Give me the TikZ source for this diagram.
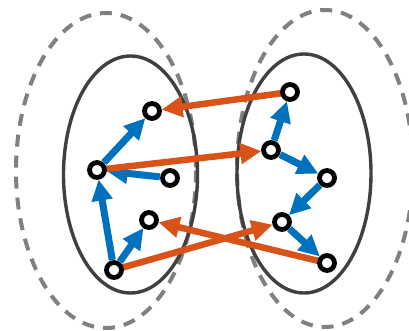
\documentclass[tikz,border=0pt]{standalone}
\usetikzlibrary{arrows.meta}
\definecolor{mblue}{HTML}{0072BD}
\definecolor{morange}{HTML}{D95319}
\definecolor{rimgray}{HTML}{404040}
\definecolor{dashgray}{HTML}{808080}
\begin{document}
\begin{tikzpicture}[x=1pt,y=-1pt,
  vertex/.style={circle,draw=black,fill=white,line width=4.8pt,minimum size=15pt,inner sep=0pt},
  anchorzone/.style={circle,minimum size=20pt,inner sep=0pt},
  cluster/.style={draw=rimgray,line width=3.4pt},
  group/.style={draw=dashgray,line width=4pt,dash pattern=on 12pt off 9pt},
  link/.style={line width=7pt,-{Triangle[length=21pt,width=20pt]},shorten >=-0.5pt},
  inner/.style={link,draw=mblue},
  cross/.style={link,draw=morange,line width=6.5pt}]
\useasboundingbox (0,0) rectangle (409,331);
% outer groups
\draw[group] (106,170.5) ellipse [x radius=90, y radius=157.5];
\draw[group] (325,168.5) ellipse [x radius=88, y radius=158.5];
% clusters
\draw[cluster] (130.5,174.5) ellipse [x radius=67, y radius=118.5];
\draw[cluster] (304,173.5) ellipse [x radius=67, y radius=119.5];
% vertex positions
\coordinate (pa) at (152,111);
\coordinate (pb) at (97,170);
\coordinate (pc) at (170,178);
\coordinate (pd) at (149,220);
\coordinate (pe) at (114,270);
\coordinate (pf) at (290,92);
\coordinate (pg) at (271,150);
\coordinate (ph) at (327,178);
\coordinate (pi) at (282,222);
\coordinate (pj) at (327,263);
% clipping zones for the connectors
\foreach \n in {a,b,c,d,e,f,g,h,i,j}
  \node[anchorzone] (\n) at (p\n) {};
% connectors inside clusters
\draw[inner] (e) -- (b);
\draw[inner] (e) -- (d);
\draw[inner] (c) -- (b);
\draw[inner] (b) -- (a);
\draw[inner] (g) -- (f);
\draw[inner] (g) -- (h);
\draw[inner] (h) -- (i);
\draw[inner] (i) -- (j);
% connectors between clusters
\draw[cross] (pf) -- (a);
\draw[cross] (pb) -- (g);
\draw[cross] (pj) -- (d);
\draw[cross] (pe) -- (i);
% visible vertices on top
\foreach \n in {a,b,c,d,e,f,g,h,i,j}
  \node[vertex] (v\n) at (p\n) {};
\end{tikzpicture}
\end{document}
